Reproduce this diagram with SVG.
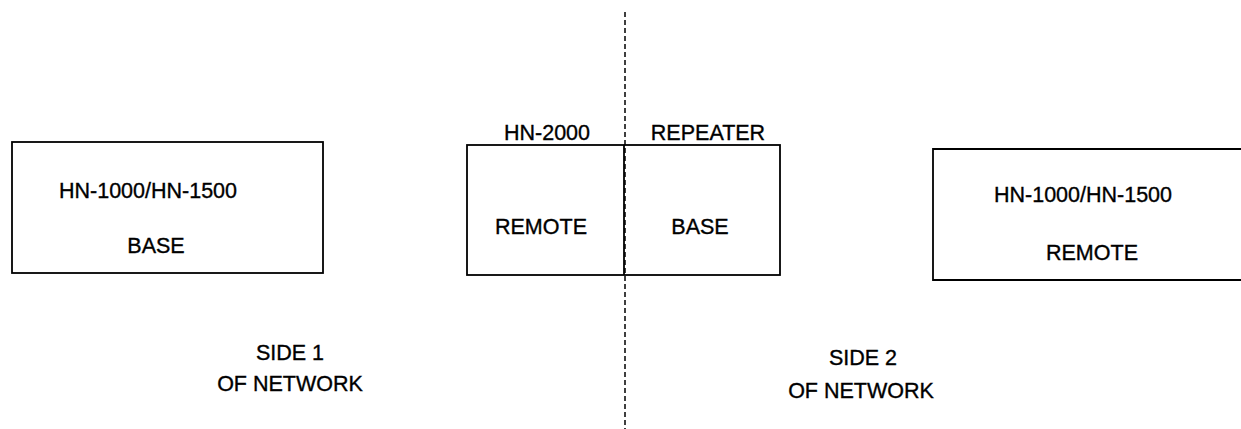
<svg xmlns="http://www.w3.org/2000/svg" width="1241" height="429" viewBox="0 0 1241 429">
  <style>
    .box { fill: none; stroke: #000; stroke-width: 1.8; }
    .lbl { font-family: "Liberation Sans", Arial, sans-serif; font-size: 21.5px; fill: #000; stroke: #000; stroke-width: 0.35; text-anchor: middle; }
    .divider { stroke: #000; stroke-width: 1.5; stroke-dasharray: 5 3; fill: none; }
  </style>
  <rect width="1241" height="429" fill="#fff"/>

  <g id="connectors">
    <line class="divider" x1="625" y1="12" x2="625" y2="429"/>
  </g>

  <g id="side1-base">
    <rect class="box" x="12" y="142" width="311" height="131"/>
    <text class="lbl" x="148" y="198">HN-1000/HN-1500</text>
    <text class="lbl" x="156" y="253">BASE</text>
  </g>

  <g id="hn2000-repeater">
    <rect class="box" x="467" y="145" width="313" height="130"/>
    <line class="box" x1="624" y1="145" x2="624" y2="275"/>
    <text class="lbl" x="547" y="140">HN-2000</text>
    <text class="lbl" x="708" y="140">REPEATER</text>
    <text class="lbl" x="541" y="234">REMOTE</text>
    <text class="lbl" x="700" y="234">BASE</text>
  </g>

  <g id="side2-remote">
    <polyline class="box" points="1245,149 933,149 933,280 1245,280"/>
    <text class="lbl" x="1083" y="202">HN-1000/HN-1500</text>
    <text class="lbl" x="1092" y="260">REMOTE</text>
  </g>

  <g id="side1-label">
    <text class="lbl" x="290" y="360">SIDE 1</text>
    <text class="lbl" x="290" y="391">OF NETWORK</text>
  </g>

  <g id="side2-label">
    <text class="lbl" x="863" y="365">SIDE 2</text>
    <text class="lbl" x="861" y="398">OF NETWORK</text>
  </g>
</svg>
